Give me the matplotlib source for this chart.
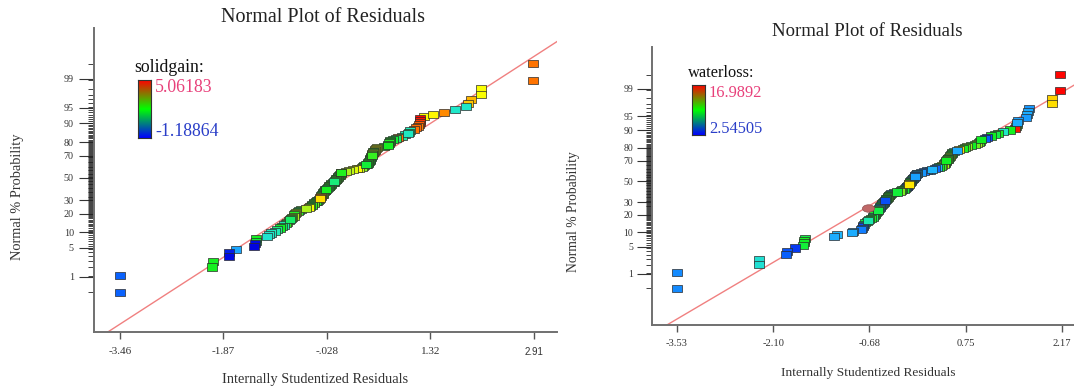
import numpy as np
import matplotlib
matplotlib.use('Agg')
import matplotlib.pyplot as plt
from matplotlib.colors import LinearSegmentedColormap
from matplotlib.markers import MarkerStyle
from matplotlib.transforms import Affine2D
from math import erf, sqrt

plt.rcParams['font.family'] = ['Liberation Serif', 'DejaVu Serif']

# solidgain model: studentized residuals (sorted) and the response value of each run
solid_resid = [-3.46, -3.46, -2.04, -2.03, -1.79, -1.78, -1.67, -1.40, -1.38, -1.37, -1.36, -1.20, -1.16, -1.13,
               -1.08, -1.04, -1.00, -0.96, -0.93, -0.91, -0.89, -0.86, -0.84, -0.83, -0.81, -0.79, -0.78, -0.76,
               -0.75, -0.72, -0.70, -0.67, -0.60, -0.55, -0.53, -0.51, -0.50, -0.48, -0.47, -0.45, -0.43, -0.41, -0.40, -0.39,
               -0.38, -0.37, -0.36, -0.35, -0.34, -0.335, -0.33, -0.32, -0.31, -0.30, -0.29, -0.28,
               -0.26, -0.25, -0.24, -0.23, -0.22, -0.21, -0.19, -0.17, -0.16, -0.15, -0.14, -0.13, -0.12,
               -0.11, -0.10, -0.09, -0.08, -0.07, -0.065, -0.06, -0.055,
               0.02, 0.06, 0.12, 0.18, 0.22, 0.26, 0.28, 0.30, 0.32, 0.34, 0.35, 0.36, 0.37, 0.38, 0.38, 0.39, 0.39,
               0.40, 0.40, 0.41, 0.41, 0.42, 0.43, 0.44, 0.45, 0.46, 0.47,
               0.48, 0.50, 0.60, 0.66, 0.67, 0.68, 0.69, 0.70,
               0.74, 0.78, 0.82, 0.88, 0.93, 0.97, 0.99, 1.00,
               1.06, 1.10, 1.13, 1.14, 1.15, 1.15, 1.15,
               1.22, 1.35, 1.52, 1.70, 1.86, 1.90, 1.94,
               2.09, 2.10, 2.89, 2.89]
solid_value = [-0.45, -0.45, 1.65, 1.65, -1.1, -0.95, 0.1, -1.15, -1.1, 1.5, 1.65, 0.75, 0.8, 0.85,
               0.9, 1.2, 1.6, 1.4, 0.95, 1.7, 2.3, 1.65, 1.3, 1.8, 2.0, 2.4, 1.7, 2.2,
               2.9, 1.7, 1.1, 1.9, 2.4, 2.9, 1.65, 1.8, 1.5, 2.0, 1.65, 1.7, 1.4, 2.1, 1.6, 3.2,
               3.9, 3.6, 1.65, 1.8, 2.2, 1.6, 1.65, 1.9, 1.5, 1.7, 1.65, 1.3,
               1.7, 1.65, 1.9, 1.6, 1.5, 1.65, 1.8, 1.4, 1.2, 1.65, 1.9, 1.6, 1.7,
               1.8, 1.5, 1.65, 1.9, 1.6, 2.1, 1.7, 5.0,
               2.4, 2.5, 2.7, 2.9, 2.6, 2.2, 1.9, 1.65, 1.5, 1.7, 1.65, 1.8, 1.6, 1.4, 1.65, 1.9, 1.7,
               1.6, 1.65, 1.8, 2.0, 2.3, 2.5, 1.65, 2.2, 2.6, 2.8,
               2.9, 2.4, 1.65, 1.65, 1.6, 1.7, 1.65, 1.6,
               1.5, 1.3, 4.1, 1.0, 0.95, 0.85, 1.3, 0.9,
               4.1, 4.2, 4.0, 4.3, 4.6, 4.9, 5.0,
               2.9, 3.0, 3.9, 0.8, 0.8, 3.4, 3.5,
               2.9, 2.9, 4.1, 4.1]
solid_range = (-1.18864, 5.06183)
solid_ticks = ["-3.46", "-1.87", "-.028", "1.32", "2.91"]
solid_line = (0.987, -0.02)   # slope, intercept of the reference line

# waterloss model
water_resid = [-3.53, -3.53, -2.32, -2.32, -1.91, -1.90, -1.78, -1.66, -1.65, -1.65, -1.64, -1.20, -1.16, -0.94, -0.92,
               -0.80, -0.79, -0.78, -0.77, -0.76, -0.74, -0.72, -0.70, -0.68, -0.66, -0.63, -0.62, -0.61, -0.60, -0.59,
               -0.58, -0.57, -0.56, -0.55, -0.54, -0.53, -0.52, -0.51, -0.50, -0.49, -0.48,
               -0.47, -0.46, -0.45, -0.44, -0.43, -0.42, -0.41, -0.40, -0.39, -0.385, -0.38, -0.36, -0.32, -0.27, -0.23,
               -0.21, -0.19, -0.17, -0.16, -0.14, -0.13, -0.12, -0.11, -0.10, -0.10,
               -0.09, -0.085, -0.08, -0.07, -0.06, -0.05, -0.04, -0.03, -0.02, -0.01, 0.00, 0.00, 0.01, 0.02, 0.03,
               0.08, 0.13, 0.17, 0.21, 0.25, 0.29, 0.32, 0.35, 0.38, 0.40, 0.42, 0.43, 0.44, 0.445, 0.45,
               0.46, 0.47, 0.48, 0.49, 0.50, 0.51, 0.52, 0.53, 0.54, 0.55, 0.58, 0.61, 0.65, 0.70,
               0.74, 0.76, 0.82, 0.88, 0.92, 0.94, 0.96, 0.98, 1.03, 1.06, 1.12, 1.18,
               1.22, 1.30, 1.40, 1.47, 1.49, 1.50, 1.51, 1.52, 1.64, 1.66, 1.67, 1.69,
               2.02, 2.02, 2.15, 2.15]
water_value = [5.0, 5.0, 6.9, 6.9, 4.2, 4.0, 3.6, 8.8, 9.0, 9.2, 8.6, 5.6, 5.8, 5.6, 5.4,
               4.8, 5.2, 3.8, 5.6, 7.4, 8.8, 9.0, 7.5, 8.9, 9.1, 8.5, 7.2, 9.0, 8.8, 9.2,
               9.0, 7.8, 8.6, 9.4, 6.5, 4.2, 8.8, 9.0, 5.0, 8.4, 9.1,
               3.8, 4.0, 3.9, 9.0, 8.8, 9.3, 10.0, 9.0, 8.7, 9.1, 9.4, 4.5, 9.0, 8.8, 10.2,
               9.0, 9.3, 8.9, 9.2, 3.8, 4.0, 9.0, 8.8, 12.5, 12.2,
               11.9, 9.0, 8.8, 4.0, 4.5, 9.0, 5.2, 4.2, 3.9, 5.4, 4.8, 5.6, 5.3, 6.0, 5.4,
               5.2, 4.6, 5.4, 5.0, 5.8, 4.4, 5.6, 9.0, 9.4, 12.2, 10.8, 9.0, 8.8, 11.5, 9.2,
               9.0, 10.5, 9.1, 8.9, 9.0, 12.0, 8.8, 9.3, 9.0, 9.0, 6.8, 5.6, 12.8, 9.2,
               9.5, 10.5, 9.0, 10.0, 10.6, 9.6, 9.2, 9.0, 4.2, 3.8, 9.0, 8.6,
               9.2, 7.2, 9.1, 16.6, 9.0, 10.0, 5.6, 5.4, 5.3, 5.6, 5.5, 5.2,
               12.7, 12.9, 16.9, 16.9]
water_range = (2.54505, 16.9892)
water_ticks = ["-3.53", "-2.10", "-0.68", "0.75", "2.17"]
water_line = (1.0, 0.07)
water_flag = (-0.70, 25.0)   # highlighted run: residual, normal % probability

prob_ticks = [1, 5, 10, 20, 30, 50, 70, 80, 90, 95, 99]

point_cmap = LinearSegmentedColormap.from_list('pts', [
    (0.0, '#0000e0'), (0.12, '#0a64ff'), (0.22, '#1eb4ff'), (0.32, '#20e8c8'),
    (0.45, '#10f020'), (0.56, '#a0f020'), (0.66, '#ffff00'), (0.76, '#ffb000'),
    (0.86, '#ff6a00'), (1.0, '#ff0000')])
bar_cmap = LinearSegmentedColormap.from_list('bar', ['#0000ff', '#00ff00', '#ff0000'])


def probit(p):
    lo, hi = -8.0, 8.0
    for _ in range(60):
        mid = 0.5 * (lo + hi)
        if 0.5 * (1 + erf(mid / sqrt(2))) < p:
            lo = mid
        else:
            hi = mid
    return 0.5 * (lo + hi)


W, H = 1074, 387
fig = plt.figure(figsize=(W / 100, H / 100), dpi=100)
fig.patch.set_facecolor('white')


def px_axes(l, t, r, b):
    return fig.add_axes([l / W, 1 - b / H, (r - l) / W, (b - t) / H])


def draw_panel(box, resid, value, vrange, tick_labels, line, xlim, ylim, fs):
    ax = px_axes(*box)
    n = len(resid)
    order = np.argsort(resid, kind='stable')
    x = np.array(resid)[order]
    c = np.array(value)[order]
    z = np.array([probit((k + 0.5) / n) for k in range(n)])
    # points are drawn in run order, not rank order, so later runs cover their neighbours
    run = (np.arange(n) * 53) % n

    ax.axline((0, line[1]), slope=line[0], color='#f08080', lw=1.0, zorder=1)
    mk = MarkerStyle('s', transform=Affine2D().scale(1.2, 0.85))
    ax.scatter(x[run], z[run], c=c[run], cmap=point_cmap, vmin=vrange[0], vmax=vrange[1], marker=mk,
               s=36, edgecolors='#2a2a2a', linewidths=0.5, zorder=3)

    ax.set_xlim(*xlim)
    ax.set_ylim(*ylim)
    ax.set_xticks(np.linspace(float(tick_labels[0]), float(tick_labels[-1]), 5))
    ax.set_xticklabels(tick_labels)
    ax.set_yticks([probit(p / 100) for p in prob_ticks])
    ax.set_yticklabels([str(p) for p in prob_ticks])
    ax.set_yticks(z, minor=True)
    ax.tick_params(axis='x', length=5, width=1, color='#555555', pad=fs['xpad'],
                   labelsize=fs['tick'], labelcolor='#333333')
    ax.tick_params(axis='y', which='major', length=11, width=0.8, color='#333333',
                   pad=fs['ypad'], labelsize=fs['ytick'], labelcolor='#333333')
    ax.tick_params(axis='y', which='minor', length=4.5, width=0.6, color='#222222')
    for s in ['top', 'right']:
        ax.spines[s].set_visible(False)
    for s in ['left', 'bottom']:
        ax.spines[s].set_color('#707070')
        ax.spines[s].set_linewidth(1.4)
    ax.set_facecolor('none')
    return ax


ax1 = draw_panel((94, 28, 557, 332), solid_resid, solid_value, solid_range, solid_ticks, solid_line,
                 (-3.86, 3.264), (-3.62, 3.52), {'xpad': 5.5, 'ypad': 3.5, 'tick': 8, 'ytick': 7.3})
ax1.get_xticklabels()[-1].set_fontfamily('Liberation Sans')
ax1.get_xticklabels()[-1].set_fontsize(7)

ax2 = draw_panel((652, 47, 1074, 325), water_resid, water_value, water_range, water_ticks, water_line,
                 (-3.90, 2.35), (-3.61, 3.38), {'xpad': 5, 'ypad': 2.5, 'tick': 7.6, 'ytick': 7})
ax2.scatter([water_flag[0]], [probit(water_flag[1] / 100)], marker=MarkerStyle('o', transform=Affine2D().scale(1.3, 0.8)),
            s=45, color='#c06868', edgecolors='#905050', linewidths=0.5, zorder=4)

# titles and axis labels
fig.text(323 / W, 1 - 18 / H, 'Normal Plot of Residuals', ha='center', va='center', fontsize=14.5, color='#222222')
fig.text(867 / W, 1 - 31 / H, 'Normal Plot of Residuals', ha='center', va='center', fontsize=13.5, color='#222222')
fig.text(315 / W, 1 - 379 / H, 'Internally Studentized Residuals', ha='center', va='center', fontsize=10.4, color='#333333')
fig.text(868 / W, 1 - 373 / H, 'Internally Studentized Residuals', ha='center', va='center', fontsize=9.6, color='#333333')
fig.text(18 / W, 1 - 197 / H, 'Normal % Probability', ha='center', va='center', rotation=90, fontsize=10.4, color='#333333')
fig.text(574 / W, 1 - 212 / H, 'Normal % Probability', ha='center', va='center', rotation=90, fontsize=9.8, color='#333333')

# colour legends
grad = np.linspace(0, 1, 256)[:, None]
for (l, t, r, b), name, rng, nx, ny, fsz in [
        ((138, 80, 151, 138), 'solidgain:', solid_range, 134, 67, 12.8),
        ((692, 85, 705, 135), 'waterloss:', water_range, 688, 73, 11.8)]:
    cax = px_axes(l, t, r, b)
    cax.imshow(grad, cmap=bar_cmap, origin='lower', aspect='auto')
    cax.set_xticks([])
    cax.set_yticks([])
    for s in cax.spines.values():
        s.set_color('#333333')
        s.set_linewidth(0.8)
    fig.text(nx / W, 1 - ny / H, name, ha='left', va='center', fontsize=fsz, color='#111111')
    fig.text((r + 4) / W, 1 - (t + 8) / H, f"{rng[1]:g}", ha='left', va='center', fontsize=fsz, color='#e8407a')
    fig.text((r + 4) / W, 1 - (b - 6) / H, f"{rng[0]:g}", ha='left', va='center', fontsize=fsz, color='#2a3ec8')

fig.savefig('out.png', dpi=100, facecolor='white')
